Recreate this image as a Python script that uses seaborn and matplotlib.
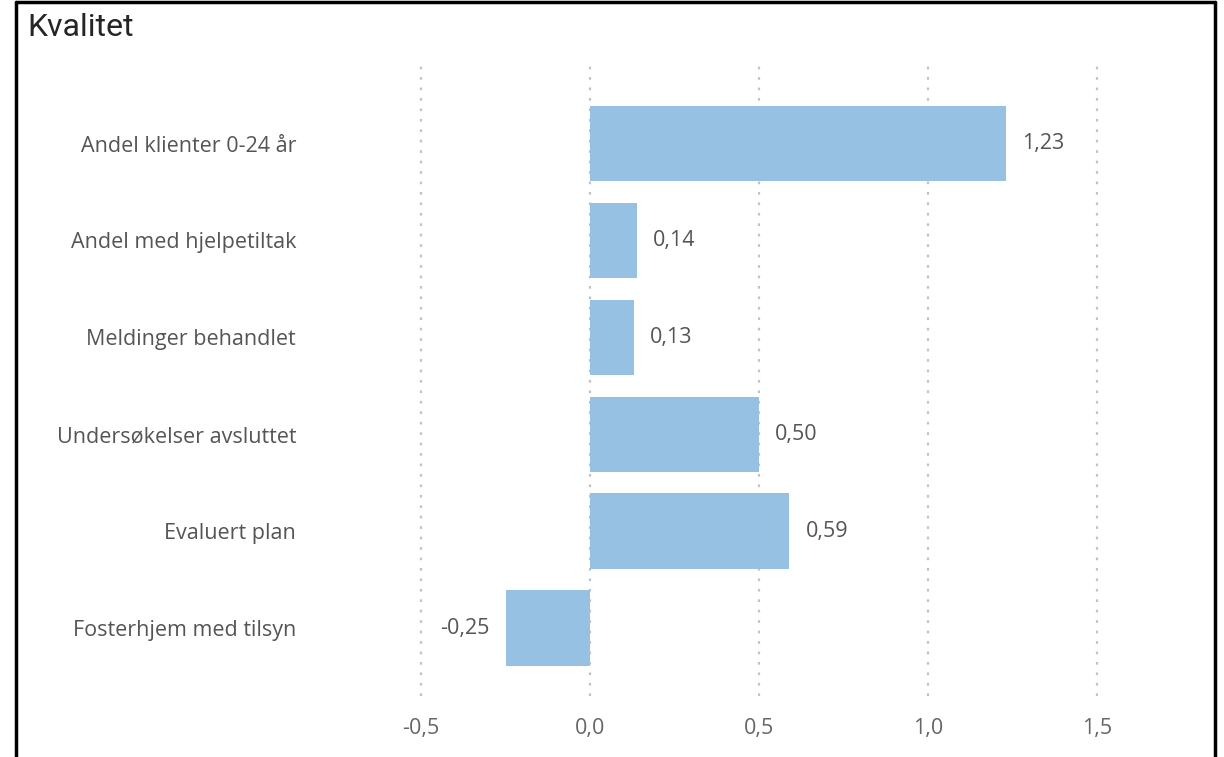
import matplotlib
matplotlib.use("Agg")
import matplotlib.pyplot as plt
import seaborn as sns
import pandas as pd
from matplotlib.lines import Line2D

categories = ["Andel klienter 0-24 år", "Andel med hjelpetiltak", "Meldinger behandlet",
              "Undersøkelser avsluttet", "Evaluert plan", "Fosterhjem med tilsyn"]
values = [1.23, 0.14, 0.13, 0.50, 0.59, -0.25]
xticks = [-0.5, 0.0, 0.5, 1.0, 1.5]
title = "Kvalitet"

sns.set_theme(style="white")
plt.rcParams['font.family'] = ['Open Sans', 'DejaVu Sans']

W, H = 1224, 757
fig = plt.figure(figsize=(W / 100, H / 100), dpi=100)
fig.patch.set_facecolor("white")

# axes in pixel coords
left_px, right_px = 310, 1190
top_px, bottom_px = 66, 696
ax = fig.add_axes([left_px / W, 1 - bottom_px / H, (right_px - left_px) / W, (bottom_px - top_px) / H])

df = pd.DataFrame({"cat": categories, "val": values})
sns.barplot(data=df, x="val", y="cat", orient="h", color="#97C1E2", width=0.78,
            saturation=1, ax=ax, zorder=3, linewidth=0)

px_per_unit = 338.0
zero_px = 590
ax.set_xlim((left_px - zero_px) / px_per_unit, (right_px - zero_px) / px_per_unit)
ax.set_ylim(5.7, -0.8)

for x in xticks:
    ax.axvline(x, color="#C2C2C2", linestyle=(0, (1.2, 3.5)), linewidth=1.6, zorder=1)

ax.set_xticks(xticks)
ax.set_xticklabels([f"{t:.1f}".replace(".", ",") for t in xticks], fontsize=15.5, color="#666666")
ax.tick_params(axis="x", length=0, pad=16)
ax.tick_params(axis="y", length=0, pad=10, labelsize=15.5, labelcolor="#555555")
ax.set_xlabel("")
ax.set_ylabel("")
for s in ax.spines.values():
    s.set_visible(False)

off = 16 / px_per_unit
for i, v in enumerate(values):
    lab = f"{v:.2f}".replace(".", ",")
    if v >= 0:
        ax.text(v + off, i, lab, va="center", ha="left", fontsize=15.5, color="#555555")
    else:
        ax.text(v - off, i, lab, va="center", ha="right", fontsize=15.5, color="#555555")

fig.text(27 / W, 1 - 27 / H, title, fontsize=23, color="#252525", va="center", ha="left",
         family=["Roboto", "DejaVu Sans"])

# frame
lw = 2.5
fig.add_artist(Line2D([16 / W, 16 / W], [0, 1 - 1.5 / H], color="black", lw=lw, transform=fig.transFigure))
fig.add_artist(Line2D([1215 / W, 1215 / W], [0, 1 - 1.5 / H], color="black", lw=lw, transform=fig.transFigure))
fig.add_artist(Line2D([16 / W, 1215 / W], [1 - 1.5 / H, 1 - 1.5 / H], color="black", lw=lw, transform=fig.transFigure))

fig.savefig("out.png", dpi=100)
